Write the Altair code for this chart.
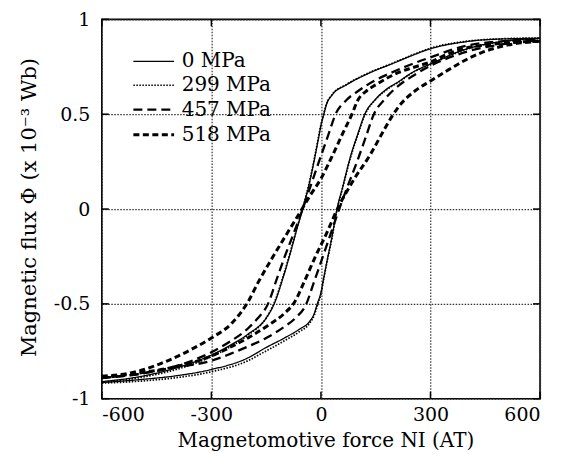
import altair as alt
import pandas as pd

series_names = ["0 MPa", "299 MPa", "457 MPa", "518 MPa"]
x_ticks = [-600, -300, 0, 300, 600]
y_ticks = [-1, -0.5, 0, 0.5, 1]

# 0 MPa : upper (descending) and lower (ascending) branches
up0_ni = [600, 500, 400, 300, 250, 200, 130, 70, 30, 15, 8, 0, -8, -16, -30, -50, -65, -85, -105, -128, -150, -200, -250, -300, -400, -500, -600]
up0_phi = [0.90, 0.897, 0.883, 0.845, 0.81, 0.77, 0.715, 0.655, 0.60, 0.55, 0.50, 0.44, 0.36, 0.28, 0.15, 0.0, -0.10, -0.24, -0.37, -0.50, -0.575, -0.66, -0.72, -0.77, -0.84, -0.885, -0.91]
lo0_ni = [-600, -500, -400, -300, -200, -150, -100, -60, -30, -18, -10, 0, 8, 16, 30, 44, 60, 81, 100, 120, 150, 177, 213, 250, 300, 400, 500, 600]
lo0_phi = [-0.915, -0.90, -0.88, -0.846, -0.785, -0.73, -0.68, -0.635, -0.59, -0.55, -0.50, -0.44, -0.36, -0.28, -0.15, 0.0, 0.12, 0.277, 0.39, 0.50, 0.58, 0.628, 0.672, 0.72, 0.765, 0.845, 0.885, 0.90]

# 299 MPa
up299_ni = [600, 500, 400, 300, 250, 200, 130, 70, 30, 15, 8, 0, -8, -16, -30, -50, -65, -85, -105, -128, -150, -200, -250, -300, -400, -500, -600]
up299_phi = [0.902, 0.898, 0.885, 0.848, 0.812, 0.772, 0.717, 0.657, 0.602, 0.553, 0.505, 0.445, 0.365, 0.285, 0.155, 0.005, -0.095, -0.235, -0.365, -0.495, -0.575, -0.665, -0.728, -0.778, -0.848, -0.89, -0.915]
lo299_ni = [-600, -500, -400, -300, -200, -150, -100, -60, -30, -18, -10, 0, 8, 16, 30, 44, 60, 81, 100, 120, 150, 177, 213, 250, 300, 400, 500, 600]
lo299_phi = [-0.918, -0.908, -0.89, -0.858, -0.80, -0.748, -0.695, -0.648, -0.60, -0.558, -0.51, -0.45, -0.365, -0.285, -0.155, -0.005, 0.115, 0.272, 0.385, 0.495, 0.578, 0.625, 0.67, 0.718, 0.763, 0.843, 0.884, 0.90]

# 457 MPa
up457_ni = [600, 500, 400, 300, 250, 200, 150, 100, 70, 40, 20, 0, -25, -50, -75, -99, -122, -145, -175, -200, -250, -300, -400, -500, -600]
up457_phi = [0.893, 0.885, 0.862, 0.80, 0.765, 0.725, 0.68, 0.62, 0.575, 0.5, 0.39, 0.28, 0.14, 0.0, -0.13, -0.25, -0.375, -0.5, -0.58, -0.63, -0.70, -0.755, -0.83, -0.87, -0.89]
lo457_ni = [-600, -500, -400, -300, -250, -200, -150, -100, -70, -40, -20, 0, 25, 50, 75, 99, 122, 145, 175, 200, 250, 300, 400, 500, 600]
lo457_phi = [-0.89, -0.87, -0.835, -0.80, -0.765, -0.725, -0.68, -0.62, -0.575, -0.5, -0.39, -0.28, -0.14, 0.0, 0.13, 0.25, 0.375, 0.5, 0.58, 0.63, 0.70, 0.755, 0.83, 0.87, 0.89]

# 518 MPa
up518_ni = [600, 500, 440, 400, 350, 300, 250, 213, 150, 126, 100, 85, 60, 31, 0, -30, -55, -90, -134, -170, -200, -243, -300, -350, -420, -500, -600]
up518_phi = [0.885, 0.875, 0.862, 0.85, 0.82, 0.775, 0.745, 0.72, 0.655, 0.625, 0.57, 0.5, 0.4, 0.28, 0.16, 0.07, -0.01, -0.12, -0.26, -0.38, -0.49, -0.6, -0.68, -0.735, -0.80, -0.855, -0.882]
lo518_ni = [-600, -500, -420, -300, -250, -200, -146, -100, -72, -45, -15, 15, 45, 90, 136, 165, 195, 213, 259, 300, 350, 400, 440, 500, 600]
lo518_phi = [-0.89, -0.865, -0.84, -0.775, -0.73, -0.68, -0.615, -0.55, -0.49, -0.38, -0.25, -0.13, 0.0, 0.155, 0.29, 0.39, 0.49, 0.54, 0.625, 0.675, 0.735, 0.79, 0.825, 0.86, 0.885]

branches = [
    ("0 MPa", "up", up0_ni, up0_phi), ("0 MPa", "lo", lo0_ni, lo0_phi),
    ("299 MPa", "up", up299_ni, up299_phi), ("299 MPa", "lo", lo299_ni, lo299_phi),
    ("457 MPa", "up", up457_ni, up457_phi), ("457 MPa", "lo", lo457_ni, lo457_phi),
    ("518 MPa", "up", up518_ni, up518_phi), ("518 MPa", "lo", lo518_ni, lo518_phi),
]
rows = []
for s, b, ni, phi in branches:
    for a, v in zip(ni, phi):
        rows.append({"series": s, "branch": s + "-" + b, "NI": a, "phi": v})
df = pd.DataFrame(rows)

FONT = "DejaVu Serif"
W, H = 439, 380

xscale = alt.Scale(domain=[-600, 600], nice=False, zero=False)
yscale = alt.Scale(domain=[-1, 1], nice=False, zero=False)
lab = "datum.value < 0 ? '-' + format(-datum.value, '~g') : format(datum.value, '~g')"

leg = alt.Legend(orient="none", legendX=38.5, legendY=29, title=None,
                 symbolType="M-1.7,0H1.7", symbolSize=576,
                 symbolStrokeColor="black", symbolFillColor="transparent",
                 labelFont=FONT, labelFontSize=20, labelColor="black",
                 rowPadding=1, labelOffset=14.5, padding=0)

lines = alt.Chart(df).mark_line(interpolate="monotone", color="black", strokeCap="butt").encode(
    x=alt.X("NI:Q", scale=xscale,
            axis=alt.Axis(values=x_ticks, labelExpr=lab, title="Magnetomotive force NI (AT)",
                          labelPadding=16, labelBaseline="middle",
                          titleX=224, titleY=42, titleBaseline="middle", titleAlign="center")),
    y=alt.Y("phi:Q", scale=yscale,
            axis=alt.Axis(values=y_ticks, labelExpr=lab, title="Magnetic flux  Φ (x 10⁻³ Wb)",
                          labelPadding=12, labelBaseline="middle", titleFontSize=21,
                          titleX=-72, titleY=188, titleAngle=270,
                          titleAlign="center", titleBaseline="middle")),
    detail="branch:N",
    order=alt.Order("NI:Q"),
    strokeDash=alt.StrokeDash("series:N", sort=series_names,
                              scale=alt.Scale(type="ordinal", domain=series_names,
                                              range=[[1, 0], [1.5, 1.5], [9, 5], [6, 3.5]]),
                              legend=leg),
    strokeWidth=alt.StrokeWidth("series:N", sort=series_names,
                                scale=alt.Scale(type="ordinal", domain=series_names,
                                                range=[1.3, 1.7, 2.3, 3.0]),
                                legend=leg),
)

xt = pd.DataFrame({"NI": x_ticks})
yt = pd.DataFrame({"phi": y_ticks})
tb = alt.Chart(xt).mark_rule(color="black", strokeWidth=1.5).encode(
    x=alt.X("NI:Q", scale=xscale), y=alt.value(H), y2=alt.value(H - 7))
tt = alt.Chart(xt).mark_rule(color="black", strokeWidth=1.5).encode(
    x=alt.X("NI:Q", scale=xscale), y=alt.value(0), y2=alt.value(7))
tl = alt.Chart(yt).mark_rule(color="black", strokeWidth=1.5).encode(
    y=alt.Y("phi:Q", scale=yscale), x=alt.value(0), x2=alt.value(7))
tr = alt.Chart(yt).mark_rule(color="black", strokeWidth=1.5).encode(
    y=alt.Y("phi:Q", scale=yscale), x=alt.value(W), x2=alt.value(W - 7))

chart = alt.layer(lines, tb, tt, tl, tr).properties(
    width=W, height=H,
    autosize=alt.AutoSizeParams(type="none"),
    padding={"left": 94, "top": 11, "right": 20, "bottom": 55},
    background="white",
).configure_axis(
    grid=True, gridDash=[1.5, 1.5], gridColor="#333333", gridWidth=1.2,
    domain=False, ticks=False, tickSize=0,
    labelFont=FONT, labelFontSize=19, labelColor="black",
    titleFont=FONT, titleFontSize=20, titleColor="black", titleFontWeight="normal",
).configure_view(
    stroke="black", strokeWidth=1.6
)

chart.save("out.html", embed_options={"renderer": "svg", "actions": False})
